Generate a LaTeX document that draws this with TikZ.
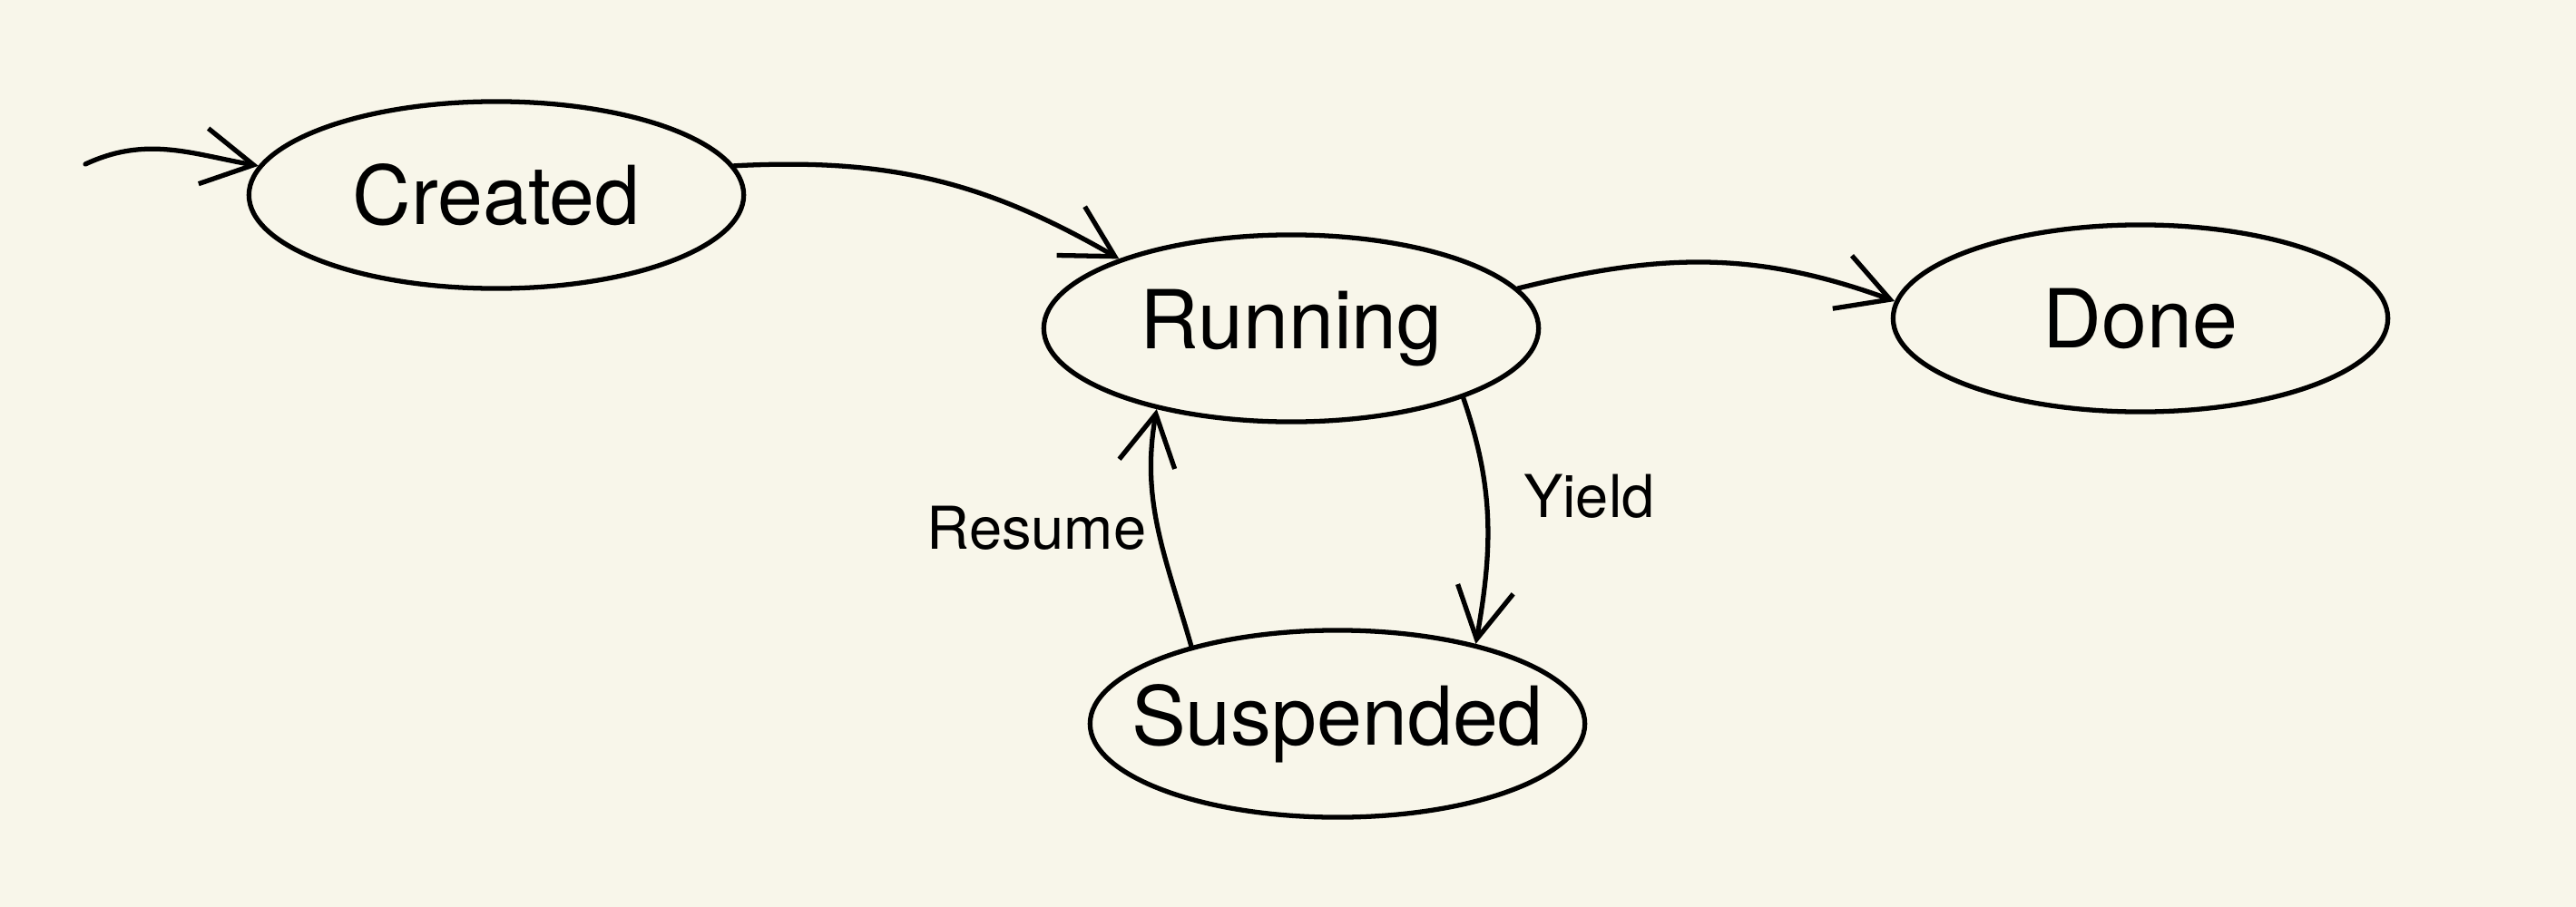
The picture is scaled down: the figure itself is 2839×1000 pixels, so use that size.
\documentclass[tikz,border=0pt]{standalone}
\usepackage{fontspec}
\setmainfont{TeX Gyre Heros}
\usetikzlibrary{shapes.geometric,arrows.meta}
\definecolor{paper}{HTML}{F8F6EA}

\begin{document}
\begin{tikzpicture}
  [x=0.01cm, y=0.01cm, line width=1.5pt,
   statenode/.style={draw, ellipse, minimum width=5.45cm, minimum height=2.06cm,
     inner xsep=-0.5cm, inner ysep=0pt, font=\fontsize{25.5}{30}\selectfont},
   edgelabel/.style={inner sep=1pt, font=\fontsize{18.5}{22}\selectfont},
   trans/.style={-{Straight Barb[length=5.6mm, width=6.2mm]}, line cap=round}]
  \fill[paper] (0,0) rectangle (2839,-1000);
  \node[statenode] (created) at (547,-215) {Created};
  \node[statenode] (running) at (1423,-362) {Running};
  \node[statenode] (done) at (2359,-351) {Done};
  \node[statenode] (suspended) at (1474,-798) {Suspended};
  \coordinate (init) at (94,-181);
  \draw[trans] (init) to[out=25, in=170] (created.173);
  \draw[trans] (created.7) to[out=3, in=150] (running.158);
  \draw[trans] (running.10) to[out=14, in=160] (done.176);
  \draw[trans] (running.-22) to[out=-71, in=80]
    node[edgelabel, pos=0.4, right=10pt] {Yield} (suspended.30);
  \draw[trans] (suspended.152) to[out=106, in=-100]
    node[edgelabel, pos=0.5, left=2pt] {Resume} (running.211);
\end{tikzpicture}
\end{document}
